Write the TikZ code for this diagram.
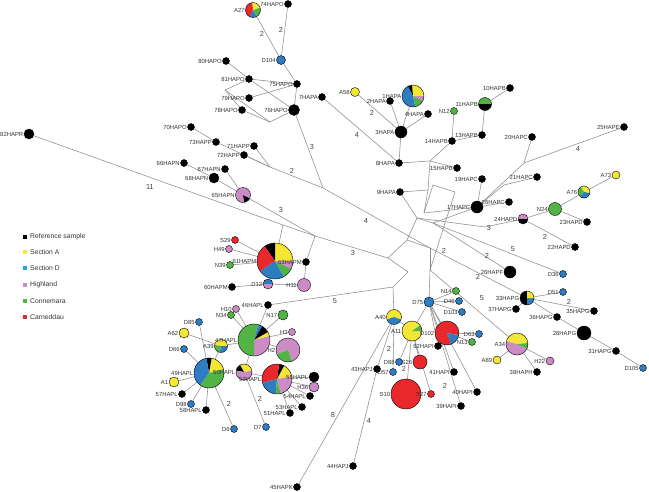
\documentclass[tikz,border=0pt]{standalone}
\usepackage{fontspec}
\setmainfont{Liberation Sans}
\usetikzlibrary{backgrounds}
\definecolor{cyel}{HTML}{F3E634}
\definecolor{cblue}{HTML}{2E7DC2}
\definecolor{cpink}{HTML}{CB8BC5}
\definecolor{cgreen}{HTML}{52B447}
\definecolor{cred}{HTML}{E8282B}
\definecolor{lblue}{HTML}{25A4DC}
\definecolor{edgec}{HTML}{8C8C8C}
\tikzset{
  hap/.style={circle, draw=black, line width=0.4pt, inner sep=0pt},
  lbl/.style={font=\fontsize{5.9}{6}\selectfont, inner sep=0.4pt, text=black!80},
  elbl/.style={font=\fontsize{7.3}{8}\selectfont, inner sep=0pt, text=black!75},
  legtxt/.style={font=\fontsize{6.8}{8}\selectfont, anchor=west, inner sep=0pt, text=black!80},
  legsq/.style={minimum size=4.5pt, inner sep=0pt},
  con/.style={draw=edgec, line width=0.55pt}
}
\newcommand\hn[5]{\node[hap, fill=#4, minimum size=#3pt, label={[lbl]left:#5}] (#1) at (#2) {};}
\newcommand\pie[5]{\node[hap, minimum size=#3pt, label={[lbl]left:#4},
  path picture={\foreach \cc/\aa/\bb in {#5}{\fill[\cc] (path picture bounding box.center) -- ++(\aa:#3pt) arc[start angle=\aa, end angle=\bb, radius=#3pt] -- cycle;}}] (#1) at (#2) {};}
\begin{document}
\begin{tikzpicture}[x=1pt,y=-1pt]
\useasboundingbox (0,0) rectangle (649,491);
% ---------- top-left ----------
\pie{A27}{253,10}{15}{A27}{cred/95/245, cblue/245/300, cgreen/300/380, cyel/20/95}
\hn{n74}{288,4}{7}{black}{74HAPO}
\hn{D104}{281,60}{9}{cblue}{D104}
\hn{n80}{226,61}{7}{black}{80HAPO}
\hn{n81}{249,79}{7}{black}{81HAPO}
\hn{n75}{297,84}{7}{black}{75HAPO}
\hn{n79}{249,98}{7}{black}{79HAPO}
\hn{n7}{322,97}{7}{black}{7HAPA}
\hn{n78}{242,110}{7}{black}{78HAPO}
\hn{n76}{294,110}{11}{black}{76HAPO}
\hn{n70}{191,127}{7}{black}{70HAPO}
\hn{n73}{216,142}{7}{black}{73HAPP}
\hn{n71}{254,146}{7}{black}{71HAPP}
\hn{n72}{244,155}{7}{black}{72HAPP}
\hn{n66}{184,163}{7}{black}{66HAPN}
\hn{n67}{225,169}{7}{black}{67HAPN}
\hn{n68}{214,178}{10}{black}{68HAPN}
\pie{n65}{243,195}{15}{65HAPN}{cpink/0/280, black/280/335, cpink/335/360}
\hn{n82}{29,134}{10}{black}{82HAPR}
% ---------- top-middle ----------
\hn{A58}{355,92}{9}{cyel}{A58}
\hn{n2}{390,101}{7}{black}{2HAPA}
\pie{n1}{413,96}{22}{1HAPA}{cyel/0/95, black/95/118, cblue/118/282, cgreen/282/335, cpink/335/360}
\hn{n4}{428,114}{7}{black}{4HAPA}
\hn{n3}{401,132}{12}{black}{3HAPA}
\hn{n8}{399,163}{7}{black}{8HAPA}
\hn{n9}{400,192}{7}{black}{9HAPA}
\hn{N12}{454,111}{7}{cgreen}{N12}
\pie{n11}{485,104}{13}{11HAPB}{cgreen/0/180, black/180/360}
\hn{n10}{510,88}{7}{black}{10HAPB}
\hn{n13}{482,135}{7}{black}{13HAPB}
\hn{n14}{452,141}{7}{black}{14HAPB}
\hn{n15}{457,168}{7}{black}{15HAPB}
\hn{n19}{482,179}{7}{black}{19HAPC}
\hn{n17}{477,207}{12}{black}{17HAPC}
\hn{n20}{532,137}{7}{black}{20HAPC}
\hn{n25}{624,127}{7}{black}{25HAPE}
\hn{n21}{537,177}{7}{black}{21HAPC}
\hn{n26c}{509,202}{7}{black}{26HAPC}
% ---------- right ----------
\hn{A73}{616,175}{8}{cyel}{A73}
\pie{A76}{584,192}{12}{A76}{cyel/-10/120, cgreen/120/230, cblue/230/350}
\hn{N24}{555,209}{13}{cgreen}{N24}
\pie{n24}{523,219}{10}{24HAPD}{cpink/0/180, black/180/360}
\hn{n23}{587,222}{7}{black}{23HAPD}
\hn{n22}{575,247}{7}{black}{22HAPD}
\hn{n26f}{510,272}{12}{black}{26HAPF}
\hn{D36}{563,274}{7}{cblue}{D36}
\hn{D51}{563,292}{7}{cblue}{D51}
\pie{n33}{527,298}{14}{33HAPG}{black/90/270, cblue/270/360, cyel/0/90}
\hn{n37}{516,309}{7}{black}{37HAPG}
\hn{n35}{594,311}{7}{black}{35HAPG}
\hn{n36}{557,317}{7}{black}{36HAPG}
\pie{A34}{517,344}{22}{A34}{cyel/5/165, cpink/165/335, cgreen/335/365}
\hn{A89}{497,360}{8}{cyel}{A89}
\hn{H22}{550,361}{8}{cpink}{H22}
\hn{n38}{537,372}{7}{black}{38HAPH}
\hn{n28}{584,333}{14}{black}{28HAPG}
\hn{n31}{616,351}{7}{black}{31HAPG}
\hn{D105}{643,368}{7}{cblue}{D105}
% ---------- centre-lower ----------
\hn{N14}{456,291}{7}{cgreen}{N14}
\hn{D75}{429,302}{10}{cblue}{D75}
\hn{D46}{459,301}{7}{cblue}{D46}
\hn{D103}{462,312}{7}{cblue}{D103}
\pie{A40}{394,317}{15}{A40}{cyel/-20/200, cblue/200/340}
\pie{A11}{412,331}{20}{A11}{cyel/35/360, cgreen/0/35}
\pie{D102}{447,333}{24}{D102}{cred/-10/290, cblue/290/350}
\hn{D63}{479,334}{7}{cblue}{D63}
\hn{N13}{472,342}{7}{cgreen}{N13}
\hn{n62}{438,346}{7}{black}{62HAPI}
\hn{S26}{420,362}{14}{cred}{S26}
\hn{D88}{399,362}{7}{cblue}{D88}
\hn{D57}{393,372}{7}{cblue}{D57}
\hn{n43}{377,369}{7}{black}{43HAPJ}
\hn{n41}{454,372}{7}{black}{41HAPI}
\hn{n40}{477,392}{7}{black}{40HAPI}
\hn{n39}{461,406}{7}{black}{39HAPI}
\hn{S10}{406,394}{30}{cred}{S10}
\hn{S27}{431,394}{7}{cred}{S27}
\hn{n44}{353,466}{7}{black}{44HAPJ}
\hn{n45}{297,487}{7}{black}{45HAPK}
% ---------- left-middle ----------
\hn{S29}{235,240}{7}{cred}{S29}
\hn{H49}{229,249}{7}{cpink}{H49}
\hn{N39}{230,265}{7}{cgreen}{N39}
\pie{n61}{275,261}{36}{61HAPM}{cyel/0/90, black/90/125, cred/125/215, cblue/215/300, cgreen/300/335, cpink/335/360}
\hn{n63}{306,262}{7}{black}{63HAPM}
\pie{D12}{268,284}{10}{D12}{cblue/0/180, cpink/180/360}
\hn{n60}{232,287}{7}{black}{60HAPM}
\hn{H11}{304,285}{13}{cpink}{H11}
% ---------- lower-left ----------
\hn{n46}{268,305}{7}{black}{46HAPL}
\hn{H10}{236,309}{7}{cpink}{H10}
\hn{N34}{231,315}{7}{cgreen}{N34}
\hn{N17}{283,315}{10}{cgreen}{N17}
\hn{D85}{199,322}{7}{cblue}{D85}
\hn{A62}{184,333}{10}{cyel}{A62}
\hn{D66}{184,349}{7}{cblue}{D66}
\pie{A39}{221,346}{13}{A39}{cyel/0/170, cgreen/170/260, cblue/260/360}
\pie{n47}{254,340}{32}{47HAPL}{cpink/-90/15, cyel/15/30, black/30/60, cblue/60/75, cgreen/75/270}
\hn{H3}{292,332}{7}{cpink}{H3}
\pie{H2}{288,350}{24}{H2}{cpink/-70/200, cgreen/200/290}
\pie{n49}{209,373}{30}{49HAPL}{cyel/15/80, black/80/100, cblue/100/235, cgreen/235/375}
\pie{n50}{244,372}{16}{50HAPL}{cyel/10/120, black/120/170, cpink/170/370}
\pie{n52}{277,379}{30}{52HAPL}{cyel/10/62, black/62/82, cred/82/195, cblue/195/265, cgreen/265/285, cpink/285/370}
\hn{n55}{314,377}{10}{black}{55HAPL}
\hn{H36}{314,387}{10}{cpink}{H36}
\hn{n54}{310,396}{7}{black}{54HAPL}
\hn{n53}{302,407}{7}{black}{53HAPL}
\hn{n51}{290,413}{7}{black}{51HAPL}
\hn{D7}{266,427}{7}{cblue}{D7}
\hn{D6}{234,429}{7}{cblue}{D6}
\hn{n58}{206,410}{7}{black}{58HAPL}
\hn{D98}{191,404}{7}{cblue}{D98}
\hn{n57}{182,394}{7}{black}{57HAPL}
\hn{A1}{174,382}{10}{cyel}{A1}
% ---------- junctions ----------
\coordinate (m1) at (225,90);
\coordinate (m3) at (270,122);
\coordinate (J2) at (270,167);
\coordinate (J3) at (323,188);
\coordinate (Jc) at (283,225);
\coordinate (Jb) at (315,236);
\coordinate (P1) at (430,161);
\coordinate (P2) at (428,190);
\coordinate (P3) at (424,213);
\coordinate (P4) at (417,218);
\coordinate (P5) at (407,240);
\coordinate (P6) at (388,258);
\coordinate (P7) at (393,287);
\coordinate (P8) at (408,272);
\coordinate (P9) at (433,223);
\coordinate (P10) at (433,185);
\coordinate (P11) at (455,192);
\coordinate (P12) at (485,227);
\coordinate (P13) at (430,270);
\coordinate (P14) at (430,248);
\coordinate (J20) at (524,163);
\coordinate (J21) at (504,185);
% ---------- connectors ----------
\begin{scope}[on background layer]
\draw[con] (A27) -- (D104);
\draw[con] (n74) -- (D104);
\draw[con] (D104) -- (n75);
\draw[con] (n75) -- (n76);
\draw[con] (n80) -- (n81);
\draw[con] (n81) -- (n76);
\draw[con] (n81) -- (n75);
\draw[con] (n81) -- (m1);
\draw[con] (m1) -- (n78);
\draw[con] (n79) -- (n75);
\draw[con] (m1) -- (m3);
\draw[con] (n78) -- (m3);
\draw[con] (m3) -- (n76);
\draw[con] (n76) -- (J3);
\draw[con] (n70) -- (n73);
\draw[con] (n73) -- (J2);
\draw[con] (n71) -- (J2);
\draw[con] (n72) -- (J2);
\draw[con] (J2) -- (J3);
\draw[con] (J3) -- (P14);
\draw[con] (n66) -- (n68);
\draw[con] (n67) -- (n65);
\draw[con] (n68) -- (n65);
\draw[con] (n65) -- (Jb);
\draw[con] (n82) -- (Jc);
\draw[con] (Jc) -- (Jb);
\draw[con] (n61) -- (Jc);
\draw[con] (n63) -- (Jb);
\draw[con] (Jb) -- (P6);
\draw[con] (n63) -- (H11);
\draw[con] (H11) -- (D12);
\draw[con] (D12) -- (n60);
\draw[con] (D12) -- (n61);
\draw[con] (n61) -- (S29);
\draw[con] (n61) -- (H49);
\draw[con] (n61) -- (N39);
\draw[con] (n46) -- (P7);
\draw[con] (n46) -- (n47);
\draw[con] (N17) -- (n47);
\draw[con] (N34) -- (n47);
\draw[con] (H10) -- (n47);
\draw[con] (D85) -- (n49);
\draw[con] (A62) -- (A39);
\draw[con] (A39) -- (n47);
\draw[con] (A39) -- (n49);
\draw[con] (D66) -- (n49);
\draw[con] (n49) -- (A1);
\draw[con] (n49) -- (n57);
\draw[con] (n49) -- (D98);
\draw[con] (n49) -- (n58);
\draw[con] (n49) -- (D6);
\draw[con] (n47) -- (H3);
\draw[con] (n47) -- (H2);
\draw[con] (n47) -- (n50);
\draw[con] (n50) -- (n52);
\draw[con] (n50) -- (D7);
\draw[con] (n52) -- (n55);
\draw[con] (n52) -- (H36);
\draw[con] (n52) -- (n54);
\draw[con] (n52) -- (n53);
\draw[con] (n52) -- (n51);
\draw[con] (n45) -- (A40);
\draw[con] (P7) -- (A40);
\draw[con] (A40) -- (A11);
\draw[con] (A40) -- (n43);
\draw[con] (n43) -- (n44);
\draw[con] (A40) -- (D57);
\draw[con] (A11) -- (D88);
\draw[con] (A11) -- (S26);
\draw[con] (A11) -- (S10);
\draw[con] (A11) -- (S27);
\draw[con] (A11) -- (D75);
\draw[con] (D75) -- (N14);
\draw[con] (D75) -- (D46);
\draw[con] (D75) -- (D103);
\draw[con] (D75) -- (D102);
\draw[con] (D75) -- (n62);
\draw[con] (D75) -- (n41);
\draw[con] (D75) -- (n40);
\draw[con] (D75) -- (n39);
\draw[con] (D102) -- (D63);
\draw[con] (D102) -- (N13);
\draw[con] (D75) -- (P13);
\draw[con] (P13) -- (P11);
\draw[con] (P11) -- (P10);
\draw[con] (P10) -- (P3);
\draw[con] (n8) -- (P1);
\draw[con] (P1) -- (n15);
\draw[con] (P1) -- (n14);
\draw[con] (P1) -- (P2);
\draw[con] (n9) -- (P2);
\draw[con] (P2) -- (P3);
\draw[con] (n9) -- (P4);
\draw[con] (P3) -- (n17);
\draw[con] (n17) -- (P9);
\draw[con] (P9) -- (P4);
\draw[con] (P4) -- (P12);
\draw[con] (P12) -- (n24);
\draw[con] (P4) -- (P5);
\draw[con] (P5) -- (P6);
\draw[con] (P6) -- (P8);
\draw[con] (P8) -- (P7);
\draw[con] (P5) -- (P14);
\draw[con] (P14) -- (P13);
\draw[con] (P13) -- (A34);
\draw[con] (P14) -- (n33);
\draw[con] (P9) -- (n26f);
\draw[con] (P9) -- (D36);
\draw[con] (n17) -- (n19);
\draw[con] (n17) -- (J20);
\draw[con] (J20) -- (n20);
\draw[con] (J20) -- (n25);
\draw[con] (n17) -- (J21);
\draw[con] (J21) -- (n21);
\draw[con] (n17) -- (n26c);
\draw[con] (n3) -- (n8);
\draw[con] (n3) -- (n1);
\draw[con] (n3) -- (n2);
\draw[con] (n3) -- (n4);
\draw[con] (n3) -- (A58);
\draw[con] (n7) -- (n8);
\draw[con] (n14) -- (N12);
\draw[con] (n14) -- (n13);
\draw[con] (n13) -- (n11);
\draw[con] (n11) -- (n10);
\draw[con] (n24) -- (N24);
\draw[con] (N24) -- (A76);
\draw[con] (A76) -- (A73);
\draw[con] (N24) -- (n23);
\draw[con] (n24) -- (n22);
\draw[con] (n33) -- (D51);
\draw[con] (n33) -- (n35);
\draw[con] (n33) -- (n36);
\draw[con] (n33) -- (n37);
\draw[con] (n36) -- (n28);
\draw[con] (n28) -- (n31);
\draw[con] (n31) -- (D105);
\draw[con] (A34) -- (A89);
\draw[con] (A34) -- (H22);
\draw[con] (A34) -- (n38);
\end{scope}
% ---------- edge weights ----------
\node[elbl] (w1) at (262,34) {2};
\node[elbl] (w2) at (281,30) {2};
\node[elbl] (w3) at (312,147) {3};
\node[elbl] (w4) at (292,171) {2};
\node[elbl] (w5) at (281,210) {3};
\node[elbl] (w6) at (150,187) {11};
\node[elbl] (w7) at (366,221) {4};
\node[elbl] (w8) at (353,253) {3};
\node[elbl] (w9) at (335,301) {5};
\node[elbl] (w10) at (372,113) {2};
\node[elbl] (w11) at (357,135) {4};
\node[elbl] (w12) at (578,149) {4};
\node[elbl] (w13) at (444,251) {2};
\node[elbl] (w14) at (478,277) {2};
\node[elbl] (w15) at (482,298) {5};
\node[elbl] (w16) at (489,228) {3};
\node[elbl] (w17) at (545,237) {2};
\node[elbl] (w18) at (513,249) {5};
\node[elbl] (w19) at (487,256) {2};
\node[elbl] (w20) at (569,302) {2};
\node[elbl] (w21) at (229,404) {2};
\node[elbl] (w22) at (260,399) {2};
\node[elbl] (w23) at (389,349) {2};
\node[elbl] (w24) at (404,369) {2};
\node[elbl] (w25) at (445,386) {2};
\node[elbl] (w26) at (333,415) {8};
\node[elbl] (w27) at (369,421) {4};
% ---------- legend ----------
\node[legsq, fill=black] (q1) at (25,237) {};
\node[legtxt] (t1) at (30,237) {Reference sample};
\node[legsq, fill=cyel] (q2) at (25,252) {};
\node[legtxt] (t2) at (30,252) {Section A};
\node[legsq, fill=lblue] (q3) at (25,268) {};
\node[legtxt] (t3) at (30,268) {Section D};
\node[legsq, fill=cpink] (q4) at (25,285) {};
\node[legtxt] (t4) at (30,285) {Highland};
\node[legsq, fill=cgreen] (q5) at (25,301) {};
\node[legtxt] (t5) at (30,301) {Connemara};
\node[legsq, fill=cred] (q6) at (25,317) {};
\node[legtxt] (t6) at (30,317) {Carneddau};
\end{tikzpicture}
\end{document}
